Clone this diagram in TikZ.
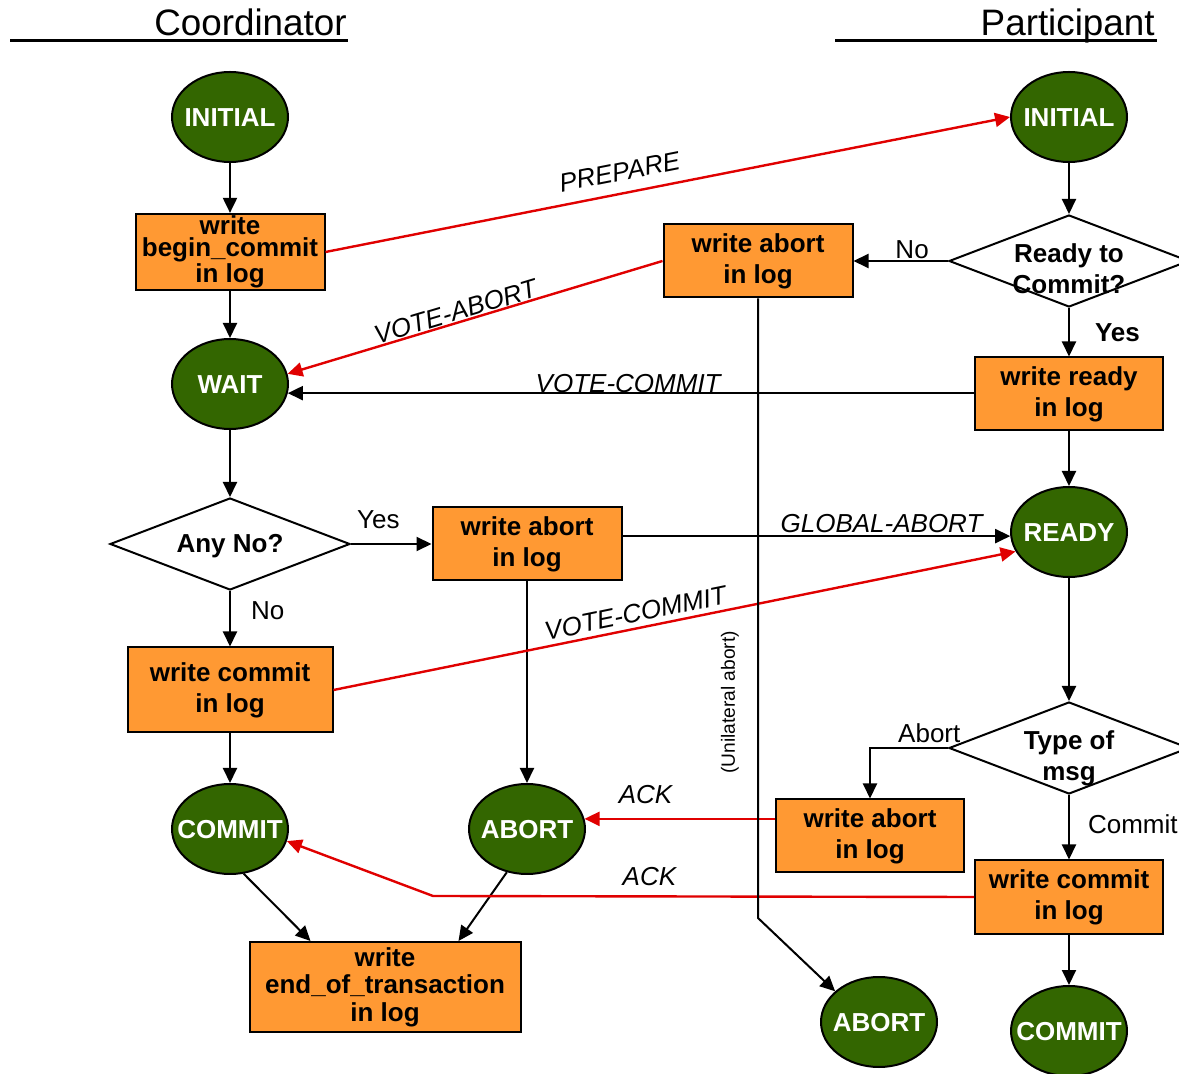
\documentclass[tikz,border=0pt]{standalone}
\usepackage{fontspec}
\setmainfont{Liberation Sans}
\usetikzlibrary{arrows.meta,calc,positioning,shapes.geometric}
\definecolor{Leaf}{HTML}{336600}
\definecolor{Amber}{HTML}{FF9933}
\definecolor{Signal}{HTML}{E00000}
\newcommand\nodetext[2][-4.7pt]{\raisebox{#1}[0pt][0pt]{\makebox[0pt]{\begin{tabular}[t]{@{}c@{}}#2\end{tabular}}}}
\tikzset{
  state/.style={ellipse,draw=black,line width=1pt,fill=Leaf,text=white,
    minimum width=58pt,minimum height=45pt,inner sep=0pt,
    font=\bfseries\fontsize{13}{15.5}\selectfont},
  logbox/.style={rectangle,draw=black,line width=1pt,fill=Amber,
    minimum width=94.5pt,minimum height=36.5pt,inner sep=1pt,align=center,
    font=\bfseries\fontsize{13}{15.5}\selectfont},
  decision/.style={diamond,draw=black,line width=1pt,fill=white,
    minimum width=120pt,minimum height=46pt,inner sep=0pt,
    font=\bfseries\fontsize{13}{15.5}\selectfont},
  flow/.style={-{Triangle[length=7.5pt,width=7pt]},line width=1pt},
  msg/.style={flow,Signal,line width=1.2pt},
  lbl/.style={text=black,font=\fontsize{13}{15}\selectfont},
  msglbl/.style={text=black,font=\itshape\fontsize{13}{15}\selectfont},
  head/.style={font=\fontsize{18.4}{22}\selectfont,inner sep=0pt},
}
\begin{document}
\begin{tikzpicture}[x=0.5pt,y=-0.5pt]
    \useasboundingbox (0,0) rectangle (1179,1074);
    \node[head,anchor=base east] (coordhead) at (347,36) {Coordinator};
    \node[head,anchor=base east] (parthead) at (1155,36) {Participant};
    \draw[line width=1.5pt] (10,41) -- (348,41);
    \draw[line width=1.5pt] (835,41) -- (1157,41);

    \node[state] (cinit) at (230,117) {\nodetext{INITIAL}};
    \node[logbox,font=\bfseries\fontsize{13}{10.75}\selectfont] (cbegin) at (230,252)
      {write\\begin\_commit\\in log};
    \node[state] (cwait) at (230,384) {\nodetext{WAIT}};
    \node[decision] (canyno) at (230,544) {\nodetext[-4.5pt]{Any No?}};
    \node[logbox] (cabort) at (527,544) {write abort\\in log};
    \node[logbox,minimum width=102.5pt,minimum height=42.5pt] (ccommit) at (230,690)
      {write commit\\in log};
    \node[state] (ccommitst) at (230,829) {\nodetext{COMMIT}};
    \node[state] (cabortst) at (527,829) {\nodetext{ABORT}};
    \node[logbox,minimum width=135.5pt,minimum height=45pt,
      font=\bfseries\fontsize{13}{13.75}\selectfont] (ceot) at (385,987)
      {write\\end\_of\_transaction\\in log};

    \node[state] (pinit) at (1069,117) {\nodetext{INITIAL}};
    \node[decision] (pready) at (1069,261) {\nodetext[-1pt]{Ready to\\Commit?}};
    \node[logbox] (pabort) at (758,261) {write abort\\in log};
    \node[logbox,minimum width=94pt] (pwrite) at (1069,394) {write ready\\in log};
    \node[state] (preadyst) at (1069,532) {\nodetext{READY}};
    \node[decision] (ptype) at (1069,748) {\nodetext[-1pt]{Type of\\msg}};
    \node[logbox,minimum width=94pt] (pabortlog) at (870,836) {write abort\\in log};
    \node[logbox,minimum width=94pt] (pcommit) at (1069,897) {write commit\\in log};
    \node[state] (pabortst) at (879,1022) {\nodetext{ABORT}};
    \node[state] (pcommitst) at (1069,1031) {\nodetext{COMMIT}};
    \coordinate (ackbend) at (433,896);
    \coordinate (unibend) at (758,918);

    \draw[flow] (cinit) -- (cbegin);
    \draw[flow] (cbegin) -- (cwait);
    \draw[flow] (cwait) -- (canyno);
    \draw[flow] (canyno.east) -- node[lbl,pos=0.34,anchor=base,yshift=7.5pt] {Yes} (cabort.west);
    \draw[flow] (canyno.south) -- node[lbl,pos=0.36,right=6.7pt] {No} (ccommit.north);
    \draw[flow] (ccommit) -- (ccommitst);
    \draw[flow] (cabort) -- (cabortst);
    \draw[flow] (ccommitst.-73) -- ([xshift=31pt]ceot.north west);
    \draw[flow] (cabortst.-115) -- ([xshift=-31.5pt]ceot.north east);

    \draw[flow] (pinit) -- (pready);
    \draw[flow] (pready.west) -- node[lbl,pos=0.38,anchor=base,yshift=1pt] {No} (pabort.east);
    \draw[flow] (pready.south) -- node[lbl,right=9.2pt,font=\bfseries\fontsize{13}{15}\selectfont] {Yes} (pwrite.north);
    \draw[flow] (pwrite) -- (preadyst);
    \draw[flow] (preadyst) -- (ptype);
    \draw[flow] (ptype.west) -| node[lbl,pos=0.12,anchor=base,yshift=2.5pt] {Abort} (pabortlog.north);
    \draw[flow] (ptype.south) -- node[lbl,pos=0.46,right=5.7pt] {Commit} (pcommit.north);
    \draw[flow] (pcommit) -- (pcommitst);

    \draw[msg] (cbegin.east) -- node[msglbl,pos=0.436,sloped,above=2.5pt] {PREPARE} (pinit.west);
    \draw[msg] (pabort.west) -- node[msglbl,pos=0.544,sloped,anchor=base,yshift=1pt] {VOTE-ABORT} (cwait.10);
    \draw[flow] (pwrite.west |- cwait.-9) -- node[msglbl,pos=0.504,anchor=base,yshift=0.5pt] {VOTE-COMMIT} (cwait.-9);
    \draw[flow] (cabort.east |- preadyst.184) -- node[msglbl,pos=0.668,anchor=base,yshift=2pt] {GLOBAL-ABORT} (preadyst.184);
    \draw[msg] (ccommit.east) -- node[msglbl,pos=0.447,sloped,above=-1pt] {VOTE-COMMIT} (preadyst.200);
    \draw[msg] (cabortst.10 -| pabortlog.west) -- node[msglbl,pos=0.68,anchor=base,yshift=7.5pt] {ACK} (cabortst.10);
    \draw[msg] (pcommit.west) -- node[msglbl,pos=0.6,anchor=base,yshift=5.5pt] {ACK} (ackbend) -- (ccommitst.-12);
    \draw[flow] (pabort.south) -- node[pos=0.652,xshift=-14pt,rotate=90,inner sep=0pt,
      font=\fontsize{9.6}{11}\selectfont] {(Unilateral abort)} (unibend) -- (pabortst.145);
\end{tikzpicture}
\end{document}
